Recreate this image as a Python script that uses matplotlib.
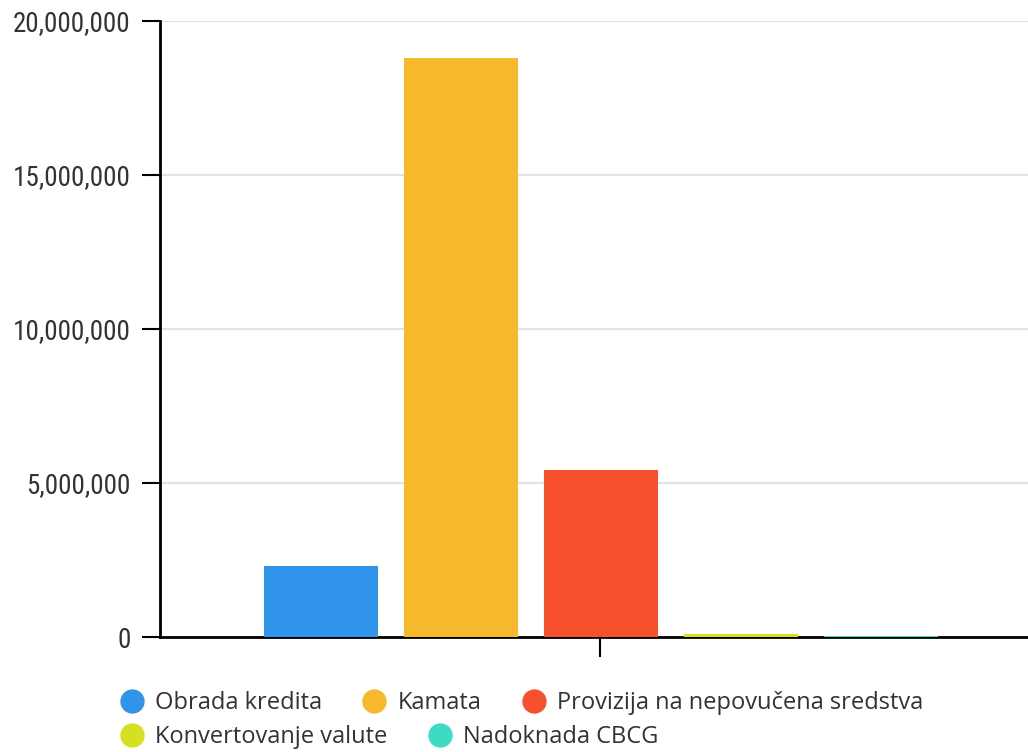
import matplotlib.pyplot as plt
from matplotlib.lines import Line2D
from matplotlib.ticker import FuncFormatter
from matplotlib import font_manager

# bar data (one category, five series)
series = ['Obrada kredita', 'Kamata', 'Provizija na nepovučena sredstva',
          'Konvertovanje valute', 'Nadoknada CBCG']
values = [2310000, 18800000, 5420000, 100000, 40000]
colors = ['#3094ea', '#f6b92b', '#f6502c', '#d5e021', '#3ddbc4']
y_ticks = [0, 5000000, 10000000, 15000000, 20000000]

# narrow font for the axis labels if one is around
installed = {f.name for f in font_manager.fontManager.ttflist}
tick_font, tick_size = 'Roboto', 17
for name, size in [('Roboto Condensed', 19.5), ('Liberation Sans Narrow', 19.5)]:
    if name in installed:
        tick_font, tick_size = name, size
        break

fig = plt.figure(figsize=(10.28, 7.52), dpi=100)
ax = fig.add_axes([160 / 1028, 115 / 752, 868 / 1028, 616 / 752])

pos = list(range(len(values)))
ax.bar(pos, values, width=0.814, color=colors, zorder=3)

ax.set_xlim(-1.15, 5.05)
ax.set_ylim(0, 20000000)
ax.set_yticks(y_ticks)
ax.yaxis.set_major_formatter(FuncFormatter(lambda v, p: f'{int(v):,}'))
ax.set_xticks([1.99])
ax.set_xticklabels([''])

ax.grid(axis='y', color='#e3e3e3', linewidth=1.5, zorder=0)
for s in ['top', 'right']:
    ax.spines[s].set_visible(False)
for s in ['left', 'bottom']:
    ax.spines[s].set_linewidth(2)
    ax.spines[s].set_color('black')

ax.tick_params(axis='y', length=13, width=1.5, pad=8, labelsize=tick_size,
               labelcolor='#333333')
ax.tick_params(axis='x', length=14.5, width=1.5)
for lbl in ax.get_yticklabels():
    lbl.set_family(tick_font)

def handles(idx):
    return [Line2D([], [], marker='o', linestyle='', markersize=16.5,
                   markerfacecolor=colors[i], markeredgecolor=colors[i],
                   label=series[i]) for i in idx]

leg_kw = dict(frameon=False, handletextpad=0.5, handlelength=0.98,
              borderaxespad=0, borderpad=0, columnspacing=1.72,
              prop={'family': 'Open Sans', 'size': 17.0}, labelcolor='#333333')
fig.legend(handles=handles([0, 1, 2]), ncol=3, loc='center left',
           bbox_to_anchor=(120 / 1028, 1 - 703 / 752), **leg_kw)
fig.legend(handles=handles([3, 4]), ncol=2, loc='center left',
           bbox_to_anchor=(120 / 1028, 1 - 737 / 752), **leg_kw)

fig.savefig('out.png', dpi=100)
